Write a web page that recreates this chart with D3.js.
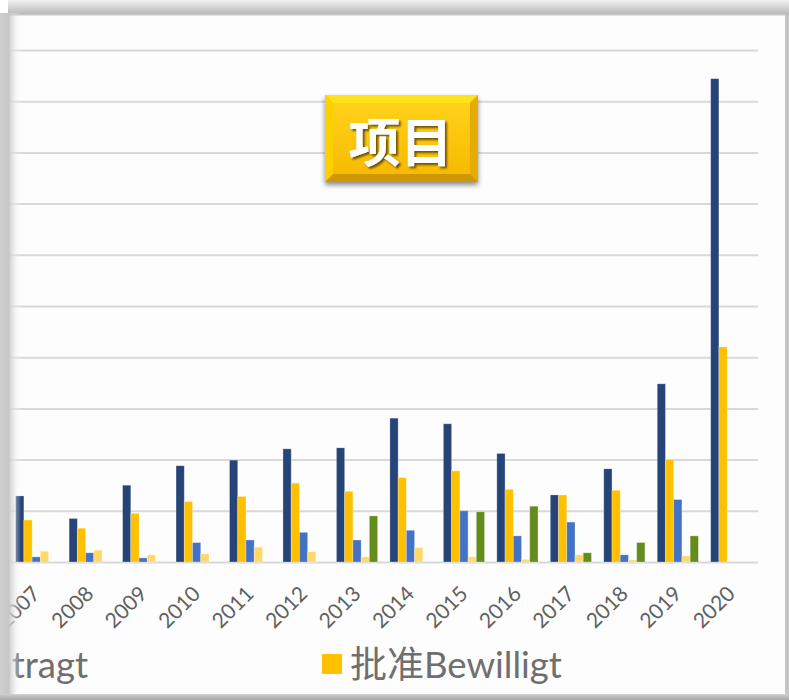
<!DOCTYPE html>
<html>
<head>
<meta charset="utf-8">
<script src="https://cdn.jsdelivr.net/npm/d3@7"></script>
<style>
  html, body { margin: 0; padding: 0; background: #ffffff; }
  svg { display: block; }
</style>
</head>
<body>
<svg id="chart" width="789" height="700"></svg>
<script>
// ---- data ----
const years = ["2007","2008","2009","2010","2011","2012","2013","2014","2015","2016","2017","2018","2019","2020"];
const seriesKeys = ["s1","s2","s3","s4","s5"];
const seriesNames = ["申请Beantragt","批准Bewilligt"];
const seriesColors = ["#264478","#FFC000","#4472C4","#FFD966","#638C1C"];
const s1 = [12.9, 8.5, 15.0, 18.8, 19.9, 22.1, 22.3, 28.1, 27.0, 21.2, 13.1, 18.2, 34.8, 94.4];
const s2 = [ 8.2, 6.6,  9.5, 11.8, 12.8, 15.4, 13.8, 16.5, 17.8, 14.2, 13.1, 14.0, 20.0, 42.0];
const s3 = [ 1.0, 1.8,  0.8,  3.8,  4.3,  5.8,  4.3,  6.2, 10.0,  5.1,  7.8,  1.4, 12.2,  0];
const s4 = [ 2.1, 2.3,  1.4,  1.6,  2.9,  2.0,  1.0,  2.8,  1.0,  0.5,  1.4,  0.4,  1.2,  0];
const s5 = [ 0,   0,    0,    0,    0,    0,    9.0,  0,    9.8, 10.9,  1.8,  3.8,  5.1,  0];
const gridTicks = [0,10,20,30,40,50,60,70,80,90,100];
const titleText = "项目";

const seriesValues = [s1, s2, s3, s4, s5];
const rows = years.map((y, i) => {
  const r = { year: y };
  seriesKeys.forEach((k, j) => r[k] = seriesValues[j][i]);
  return r;
});

const svg = d3.select("#chart");
const defs = svg.append("defs");

// ---- frame / shadows ----
const gTop = defs.append("linearGradient").attr("id","gTop").attr("x1",0).attr("y1",0).attr("x2",0).attr("y2",1);
gTop.append("stop").attr("offset","0%").attr("stop-color","#f2f2f2");
gTop.append("stop").attr("offset","100%").attr("stop-color","#b9b9b9");
const gLeft = defs.append("linearGradient").attr("id","gLeft").attr("x1",0).attr("y1",0).attr("x2",1).attr("y2",0);
gLeft.append("stop").attr("offset","0%").attr("stop-color","#cfcfcf").attr("stop-opacity",1);
gLeft.append("stop").attr("offset","40%").attr("stop-color","#c6c6c6").attr("stop-opacity",1);
gLeft.append("stop").attr("offset","100%").attr("stop-color","#ffffff").attr("stop-opacity",0);
const gBot = defs.append("linearGradient").attr("id","gBot").attr("x1",0).attr("y1",0).attr("x2",0).attr("y2",1);
gBot.append("stop").attr("offset","0%").attr("stop-color","#d0d0d0");
gBot.append("stop").attr("offset","100%").attr("stop-color","#a8a8a8");

svg.append("rect").attr("x",0).attr("y",0).attr("width",789).attr("height",700).attr("fill","#fdfdfd");

// ---- scales ----
const x0 = d3.scaleBand().domain(years).range([9.5, 758]).paddingInner(0.23).paddingOuter(0.115);
const x1 = d3.scaleBand().domain(seriesKeys).range([0, x0.bandwidth()]);
const y = d3.scaleLinear().domain([0, 100]).range([562, 50]);
const color = d3.scaleOrdinal().domain(seriesKeys).range(seriesColors);

// gridlines
const grid = svg.append("g").attr("transform","translate(758,0)")
  .call(d3.axisLeft(y).tickValues(gridTicks).tickSize(758).tickFormat(""));
grid.select(".domain").remove();
grid.selectAll(".tick line").attr("stroke","#d9d9d9").attr("stroke-width",2);

// bars
svg.append("g").selectAll("g").data(rows).join("g")
  .attr("transform", d => `translate(${x0(d.year)},0)`)
  .selectAll("rect").data(d => seriesKeys.map(k => ({ key: k, value: d[k] })))
  .join("rect")
  .attr("x", d => x1(d.key))
  .attr("y", d => y(d.value))
  .attr("width", x1.bandwidth())
  .attr("height", d => y(0) - y(d.value))
  .attr("fill", d => color(d.key))
  .attr("stroke", d => d.value > 0 ? "rgba(255,255,255,0.35)" : "none")
  .attr("stroke-width", 0.8);

// x axis labels
const xAxis = svg.append("g").attr("transform","translate(0,562)")
  .call(d3.axisBottom(x0).tickSize(0).tickSizeOuter(0));
xAxis.select(".domain").remove();
xAxis.selectAll("text")
  .attr("font-family","Lato, 'Noto Sans', sans-serif")
  .attr("font-size", 21)
  .attr("fill","#606060")
  .attr("text-anchor","end")
  .attr("dy", 0)
  .attr("transform", "translate(3,31) rotate(-45)");

// ---- legend (first two series) ----
function legendText(g, name) {
  const t = g.append("text").attr("y", 678).attr("fill","#6f6f6f")
    .attr("font-family", "Lato, 'Noto Sans CJK SC', sans-serif");
  const m = name.match(/^([^A-Za-z]+)(.*)$/);
  t.append("tspan").attr("font-family","'Noto Sans CJK SC', sans-serif").attr("font-size",37).text(m[1]);
  t.append("tspan").attr("font-size",36.5).text(m[2]);
  return t;
}
// item 1 (mostly cut off at left)
const leg1 = svg.append("g");
const t1 = legendText(leg1, seriesNames[0]).attr("text-anchor","end").attr("x", 88);
const w1 = t1.node().getComputedTextLength();
leg1.append("rect").attr("x", 88 - w1 - 30).attr("y", 654).attr("width",20).attr("height",20).attr("fill", seriesColors[0]);
// item 2
const leg2 = svg.append("g");
leg2.append("rect").attr("x", 322).attr("y", 654).attr("width",20).attr("height",20).attr("fill", seriesColors[1]);
legendText(leg2, seriesNames[1]).attr("x", 350);

// ---- title button ----
const bx = 325, by = 95, bw = 153, bh = 87, bv = 8;
const sh = defs.append("filter").attr("id","btnShadow").attr("x","-20%").attr("y","-20%").attr("width","140%").attr("height","150%");
sh.append("feDropShadow").attr("dx",0).attr("dy",3).attr("stdDeviation",2.5).attr("flood-color","#000").attr("flood-opacity",0.45);
const gFace = defs.append("linearGradient").attr("id","gFace").attr("x1",0).attr("y1",0).attr("x2",0).attr("y2",1);
gFace.append("stop").attr("offset","0%").attr("stop-color","#ffd21a");
gFace.append("stop").attr("offset","100%").attr("stop-color","#f7bb00");
const btn = svg.append("g");
btn.append("rect").attr("x",bx).attr("y",by).attr("width",bw).attr("height",bh).attr("fill","#f2b800").attr("filter","url(#btnShadow)");
btn.append("polygon").attr("points",[[bx,by],[bx+bw,by],[bx+bw-bv,by+bv],[bx+bv,by+bv]].join(" ")).attr("fill","#ffe31a");
btn.append("polygon").attr("points",[[bx,by],[bx+bv,by+bv],[bx+bv,by+bh-bv],[bx,by+bh]].join(" ")).attr("fill","#ffd000");
btn.append("polygon").attr("points",[[bx+bw,by],[bx+bw,by+bh],[bx+bw-bv,by+bh-bv],[bx+bw-bv,by+bv]].join(" ")).attr("fill","#e6ab00");
btn.append("polygon").attr("points",[[bx,by+bh],[bx+bv,by+bh-bv],[bx+bw-bv,by+bh-bv],[bx+bw,by+bh]].join(" ")).attr("fill","#cf9700");
btn.append("rect").attr("x",bx+bv).attr("y",by+bv).attr("width",bw-2*bv).attr("height",bh-2*bv).attr("fill","url(#gFace)");
const tsh = defs.append("filter").attr("id","txtShadow").attr("x","-20%").attr("y","-20%").attr("width","140%").attr("height","140%");
tsh.append("feDropShadow").attr("dx",2).attr("dy",2).attr("stdDeviation",1.2).attr("flood-color","#3a2a00").attr("flood-opacity",0.75);
btn.append("text").attr("x", bx + bw/2 - 1).attr("y", by + bh/2 + 1).attr("text-anchor","middle").attr("dominant-baseline","central")
  .attr("font-family","'Noto Sans CJK SC', sans-serif").attr("font-weight",700).attr("font-size",52)
  .attr("fill","#ffffff").attr("filter","url(#txtShadow)").text(titleText);

// ---- outer shadows / frame edges ----
svg.append("rect").attr("x",0).attr("y",0).attr("width",8).attr("height",13).attr("fill","#ffffff");
svg.append("rect").attr("x",8).attr("y",0).attr("width",781).attr("height",14).attr("fill","url(#gTop)");
svg.append("rect").attr("x",0).attr("y",13).attr("width",21).attr("height",687).attr("fill","url(#gLeft)");
svg.append("rect").attr("x",8).attr("y",14).attr("width",781).attr("height",1.5).attr("fill","#c8c8c8");
svg.append("rect").attr("x",785).attr("y",14).attr("width",4).attr("height",686).attr("fill","#c4c4c4");
svg.append("rect").attr("x",0).attr("y",694).attr("width",789).attr("height",6).attr("fill","url(#gBot)");
</script>
</body>
</html>
